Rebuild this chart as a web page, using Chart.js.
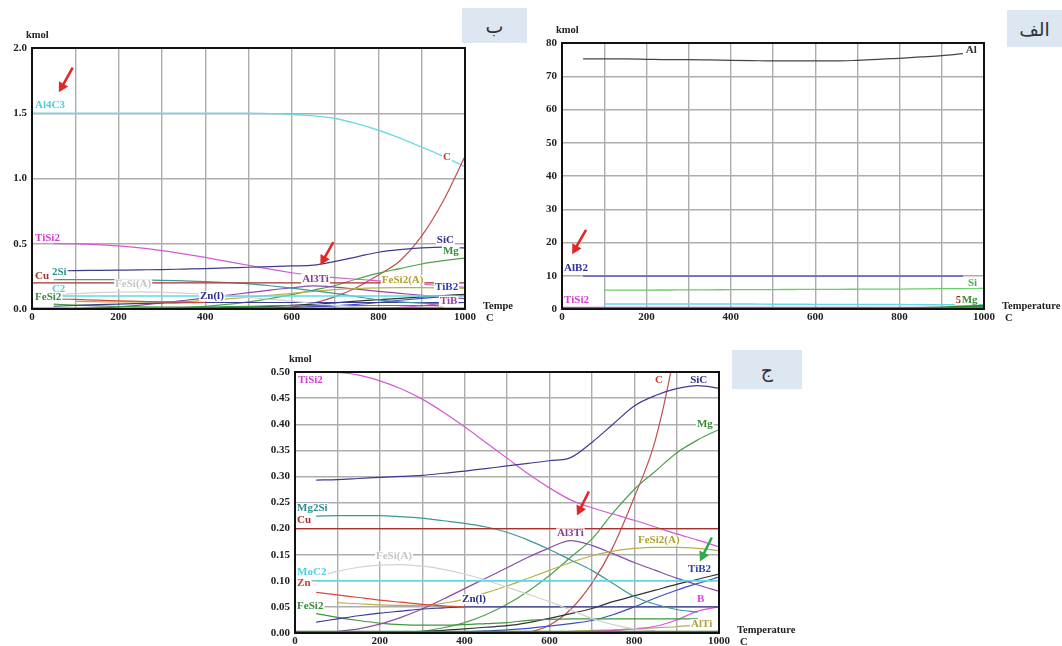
<!DOCTYPE html>
<html><head><meta charset="utf-8">
<script src="https://cdn.jsdelivr.net/npm/chart.js@4.4.1/dist/chart.umd.min.js"></script>
<style>
html,body{margin:0;padding:0;background:#fff;width:1062px;height:646px;overflow:hidden;position:relative}
canvas{position:absolute;left:0;top:0;pointer-events:none}
.tag{position:absolute;background:#dde7f2;font-family:"DejaVu Sans",sans-serif;color:#333;font-size:19px;display:flex;align-items:center;justify-content:center;z-index:5}
</style></head>
<body>
<canvas id="cB" width="1062" height="646"></canvas>
<canvas id="cA" width="1062" height="646"></canvas>
<canvas id="cJ" width="1062" height="646"></canvas>
<div class="tag" style="left:462px;top:8px;width:65px;height:35px">ب</div>
<div class="tag" style="left:1007px;top:10px;width:55px;height:37px">الف</div>
<div class="tag" style="left:732px;top:350px;width:70px;height:39px">ج</div>
<script>
// ---------- temperatures (C) ----------
const temps = [0,50,100,150,200,250,300,350,400,450,500,550,600,650,700,750,800,850,900,950,1000];

// ---------- system shown in panels ب and ج (kmol) ----------
const al4c3  = [1.5,1.5,1.5,1.5,1.5,1.5,1.5,1.5,1.5,1.5,1.5,1.497,1.49,1.48,1.46,1.42,1.37,1.31,1.24,1.17,1.09];
const carbon = [null,null,null,null,null,null,null,null,null,null,null,0.0,0.015,0.045,0.095,0.165,0.26,0.37,0.56,0.83,1.17];
const tiSi2  = [null,0.5,0.499,0.494,0.483,0.468,0.448,0.423,0.395,0.365,0.335,0.305,0.278,0.255,0.24,0.228,0.216,0.203,0.19,0.178,0.165];
const siC    = [null,0.293,0.294,0.296,0.298,0.3,0.302,0.306,0.31,0.315,0.32,0.325,0.33,0.336,0.365,0.4,0.435,0.455,0.468,0.474,0.469];
const mg     = [null,null,null,null,null,null,0.003,0.01,0.02,0.035,0.055,0.08,0.11,0.145,0.18,0.23,0.275,0.31,0.345,0.37,0.39];
const mg2Si  = [null,0.224,0.225,0.225,0.225,0.223,0.22,0.215,0.21,0.203,0.193,0.178,0.16,0.14,0.12,0.095,0.07,0.055,0.045,0.04,null];
const cu     = [0.2,0.2,0.2,0.2,0.2,0.2,0.2,0.2,0.2,0.2,0.2,0.2,0.2,0.2,0.2,0.2,0.2,0.2,0.2,0.2,0.2];
const feSiA  = [null,0.108,0.118,0.126,0.13,0.131,0.128,0.122,0.113,0.101,0.088,0.074,0.06,0.044,0.028,0.016,0.008,0.004,null,null,null];
const moC2   = [null,0.1,0.1,0.1,0.1,0.1,0.1,0.1,0.1,0.1,0.1,0.1,0.1,0.1,0.1,0.1,0.1,0.1,0.1,0.1,0.1];
const zn     = [null,0.078,0.073,0.068,0.063,0.059,0.055,0.052,0.05,null,null,null,null,null,null,null,null,null,null,null,null];
const znL    = [null,0.021,0.027,0.033,0.038,0.042,0.046,0.048,0.05,0.05,0.05,0.05,0.05,0.05,0.05,0.05,0.05,0.05,0.05,0.05,0.05];
const feSi2  = [null,0.037,0.03,0.024,0.019,0.016,0.015,0.015,0.016,0.018,0.02,0.024,0.026,0.027,0.027,0.027,0.027,0.027,0.027,0.027,null];
const feSi2A = [null,null,0.058,0.056,0.054,0.053,0.053,0.057,0.065,0.077,0.09,0.105,0.12,0.135,0.148,0.157,0.162,0.164,0.164,0.162,0.158];
const al3Ti  = [null,null,0.003,0.008,0.017,0.03,0.046,0.065,0.085,0.105,0.125,0.145,0.163,0.177,0.168,0.152,0.135,0.12,0.105,0.092,0.08];
const tiB    = [null,null,null,null,0.001,0.002,0.003,0.005,0.008,0.011,0.014,0.02,0.028,0.037,0.047,0.06,0.071,0.082,0.093,0.103,0.113];
const tiB2   = [null,null,null,null,null,null,null,null,0.002,0.004,0.006,0.009,0.013,0.018,0.024,0.035,0.05,0.067,0.082,0.095,0.107];
const boron  = [null,null,null,null,null,null,null,null,null,null,null,null,null,null,0.003,0.005,0.008,0.013,0.025,0.042,0.05];
const alTi   = [null,null,null,null,null,null,null,null,null,null,null,null,0.002,0.003,0.005,0.006,0.008,0.01,0.012,0.015,null];
const baseG  = [0.002,0.002,0.002,0.002,0.002,0.002,0.002,0.002,0.002,0.002,0.002,0.002,0.002,0.002,0.002,0.002,0.002,0.002,0.002,0.002,0.002];

// ---------- system shown in panel الف (kmol) ----------
const alA    = [null,75.2,75.2,75.2,75.1,75.0,75.0,74.9,74.8,74.7,74.6,74.6,74.6,74.6,74.8,75.1,75.4,75.8,76.2,76.8,null];
const alB2A  = [null,9.9,9.9,9.9,9.9,9.9,9.9,9.9,9.9,9.9,9.9,9.9,9.9,9.9,9.9,9.9,9.9,9.9,9.9,9.9,null];
const siA    = [null,null,5.7,5.7,5.7,5.72,5.75,5.77,5.8,5.82,5.85,5.87,5.9,5.92,5.95,5.97,6.0,6.05,6.1,6.15,6.2];
const cyanA  = [null,null,1.5,1.5,1.5,1.5,1.5,1.5,1.5,1.5,1.45,1.45,1.4,1.4,1.4,1.35,1.35,1.3,1.3,1.3,1.3];
const tiSi2A = [0.5,0.5,0.5,0.5,0.5,0.5,0.5,0.5,0.5,0.5,0.5,0.5,0.5,0.5,0.5,0.5,0.5,0.5,0.5,0.5,0.5];
const cuA    = [0.2,0.2,0.2,0.2,0.2,0.2,0.2,0.2,0.2,0.2,0.2,0.2,0.2,0.2,0.2,0.2,0.2,0.2,0.2,0.2,0.2];
const mgA    = [0.05,0.05,0.05,0.05,0.05,0.05,0.05,0.05,0.05,0.05,0.05,0.05,0.05,0.05,0.05,0.05,0.1,0.2,0.4,0.7,0.9];

// ---------- tick labels ----------
const xTickLabels = [0,200,400,600,800,1000];

// ---------- series labels (temperature, kmol) ----------
const labelsB = [
  {text:'Al4C3',t:7,v:1.563,c:'#4fcfe0'},{text:'TiSi2',t:7,v:0.544,c:'#d040d0'},
  {text:'Cu',t:7,v:0.253,c:'#a03028'},{text:'2Si',t:46,v:0.284,c:'#2f8f8f'},
  {text:'C2',t:46,v:0.153,c:'#4fd0e0'},{text:'FeSi(A)',t:192,v:0.19,c:'#c4c4c4'},
  {text:'FeSi2',t:7,v:0.092,c:'#3a8a3a'},{text:'Zn(l)',t:388,v:0.1,c:'#2e2e90'},
  {text:'Al3Ti',t:624,v:0.23,c:'#8a3a9a'},{text:'FeSi2(A)',t:808,v:0.222,c:'#b0a030'},
  {text:'C',t:949,v:1.165,c:'#c83838'},{text:'SiC',t:935,v:0.529,c:'#303088'},
  {text:'Mg',t:949,v:0.444,c:'#3a8f3a'},{text:'TiB2',t:931,v:0.169,c:'#3040b0'},
  {text:'TiB',t:942,v:0.061,c:'#a040a0'}
];
const labelsJ = [
  {text:'TiSi2',t:7,v:0.485,c:'#d040d0'},{text:'Mg2Si',t:5,v:0.239,c:'#2f8f8f'},
  {text:'Cu',t:5,v:0.216,c:'#a03028'},{text:'FeSi(A)',t:191,v:0.147,c:'#c4c4c4'},
  {text:'MoC2',t:5,v:0.116,c:'#4fd0e0'},{text:'Zn',t:5,v:0.095,c:'#d03a30'},
  {text:'FeSi2',t:5,v:0.052,c:'#3a8a3a'},{text:'Zn(l)',t:394,v:0.065,c:'#2e2e90'},
  {text:'Al3Ti',t:618,v:0.191,c:'#8a3a9a'},{text:'FeSi2(A)',t:809,v:0.177,c:'#b0a030'},
  {text:'C',t:849,v:0.485,c:'#c83838'},{text:'SiC',t:932,v:0.485,c:'#303088'},
  {text:'Mg',t:948,v:0.40,c:'#3a8f3a'},{text:'TiB2',t:927,v:0.122,c:'#3040b0'},
  {text:'B',t:948,v:0.065,c:'#e040e0'},{text:'AlTi',t:934,v:0.017,c:'#b0a040'}
];
const labelsA = [
  {text:'Al',t:957,v:77.9,c:'#333333'},{text:'AlB2',t:5,v:12.3,c:'#3030a0'},
  {text:'TiSi2',t:5,v:2.7,c:'#d040d0'},{text:'Si',t:962,v:7.8,c:'#4ab04a'},
  {text:'5',t:933,v:2.7,c:'#a03028'},{text:'Mg',t:947,v:2.7,c:'#3a8f3a'}
];
// arrows [tailT, tailV, headT, headV, colour]
const arrowsB = [[94,1.85,62,1.66,'#e02828'],[696,0.513,666,0.337,'#e02828']];
const arrowsA = [[57,23.8,24,16.5,'#e02828']];
const arrowsJ = [[693,0.271,665,0.225,'#e02828'],[983,0.183,955,0.137,'#2eaa4a']];

function ds(arr, color, width){
  return {data: temps.map((t,i)=>({x:t,y:arr[i]})), borderColor:color, borderWidth:width||1.2,
    pointRadius:0, fill:false, cubicInterpolationMode:'monotone', spanGaps:false};
}
const sysSeries = (withAl4C3) => {
  const list = [
    ds(baseG,'#2e8b2e',2.5), ds(cu,'#a8322e'), ds(moC2,'#62d8e6',1.4), ds(feSiA,'#d2d2d2'),
    ds(mg2Si,'#3b9898'), ds(zn,'#d8483e'), ds(znL,'#3b3b96'), ds(feSi2,'#3f963f'),
    ds(feSi2A,'#b9b04a'), ds(al3Ti,'#8c4ca6'), ds(tiB,'#333333'), ds(tiB2,'#3e4fc4'),
    ds(boron,'#e052e0'), ds(alTi,'#b8a868'), ds(mg,'#4ea24e'), ds(siC,'#3d3d8f'),
    ds(tiSi2,'#d45ad4'), ds(carbon,'#c0504d')
  ];
  if (withAl4C3) list.push(ds(al4c3,'#6fd9e6',1.4));
  return list;
};

function drawArrow(ctx,x1,y1,x2,y2,color){
  const a=Math.atan2(y2-y1,x2-x1), hl=11;
  ctx.strokeStyle=color; ctx.lineWidth=2.6; ctx.beginPath();
  ctx.moveTo(x1,y1); ctx.lineTo(x2-hl*0.7*Math.cos(a), y2-hl*0.7*Math.sin(a)); ctx.stroke();
  ctx.fillStyle=color; ctx.beginPath(); ctx.moveTo(x2,y2);
  ctx.lineTo(x2-hl*Math.cos(a-0.5), y2-hl*Math.sin(a-0.5));
  ctx.lineTo(x2-hl*Math.cos(a+0.5), y2-hl*Math.sin(a+0.5)); ctx.closePath(); ctx.fill();
}

const FONT = '"Liberation Serif", serif';
function makePlugin(labels, arrows, xTitle){
  return {
    id:'annot',
    afterDatasetsDraw(chart){
      const {ctx, chartArea:a, scales:{x,y}} = chart;
      ctx.save();
      ctx.font = 'bold 11px '+FONT; ctx.textBaseline='middle'; ctx.textAlign='left';
      labels.forEach(l=>{
        const px=x.getPixelForValue(l.t), py=y.getPixelForValue(l.v);
        const w=ctx.measureText(l.text).width;
        ctx.fillStyle='#fff'; ctx.fillRect(px-1,py-5,w+2,10);
        ctx.fillStyle=l.c; ctx.fillText(l.text,px,py);
      });
      ctx.strokeStyle='#111'; ctx.lineWidth=2;
      ctx.strokeRect(a.left,a.top,a.right-a.left,a.bottom-a.top);
      arrows.forEach(r=>drawArrow(ctx,x.getPixelForValue(r[0]),y.getPixelForValue(r[1]),x.getPixelForValue(r[2]),y.getPixelForValue(r[3]),r[4]));
      ctx.fillStyle='#222'; ctx.font='bold 10.5px '+FONT; ctx.textBaseline='middle';
      ctx.fillText('kmol', a.left-6, a.top-13);
      ctx.fillText(xTitle, a.right+18, a.bottom-3);
      ctx.fillText('C', a.right+21, a.bottom+9);
      ctx.restore();
    }
  };
}

function makeChart(id, area, yMax, yStep, yDec, yW, datasets, labels, arrows, xTitle){
  const xH = 13;
  new Chart(document.getElementById(id), {
    type:'line',
    data:{datasets},
    options:{
      responsive:false, animation:false, devicePixelRatio:1,
      events:[],
      layout:{padding:{left:area.l-yW, right:1062-area.r, top:area.t, bottom:Math.max(0,646-area.b-xH)}},
      plugins:{legend:{display:false}, tooltip:{enabled:false}},
      scales:{
        x:{type:'linear', min:0, max:1000,
          afterFit:s=>{s.height=xH;},
          afterBuildTicks:s=>{s.ticks=temps.filter(t=>t%100===0).map(v=>({value:v}));},
          ticks:{autoSkip:false, maxRotation:0, padding:2, color:'#222', font:{family:FONT, size:11, weight:'bold'},
            callback:v=> xTickLabels.includes(v)? String(v):''},
          grid:{color:'#adadad', lineWidth:1.4, drawTicks:false}, border:{display:false}},
        y:{min:0, max:yMax,
          afterFit:s=>{s.width=yW;},
          ticks:{stepSize:yStep, padding:5, color:'#222', font:{family:FONT, size:11, weight:'bold'},
            callback:v=>Number(v).toFixed(yDec)},
          grid:{color:'#adadad', lineWidth:1.4, drawTicks:false}, border:{display:false}}
      }
    },
    plugins:[makePlugin(labels, arrows, xTitle)]
  });
}

makeChart('cB', {l:32,r:465,t:48,b:309}, 2.0, 0.5, 1, 32, sysSeries(true), labelsB, arrowsB, 'Tempe');
makeChart('cA', {l:562,r:984,t:43,b:309}, 80, 10, 0, 26, [
  ds(mgA,'#2e8b2e',2.5), ds(cuA,'#a8322e',1.4), ds(tiSi2A,'#d45ad4',1.4), ds(cyanA,'#62d8e6',1.4),
  ds(siA,'#6ccc6c',1.3), ds(alB2A,'#5050b4',1.4), ds(alA,'#444444',1.2)
], labelsA, arrowsA, 'Temperature');
makeChart('cJ', {l:295,r:719,t:372,b:634}, 0.5, 0.05, 2, 38, sysSeries(false), labelsJ, arrowsJ, 'Temperature');
</script>
</body></html>
